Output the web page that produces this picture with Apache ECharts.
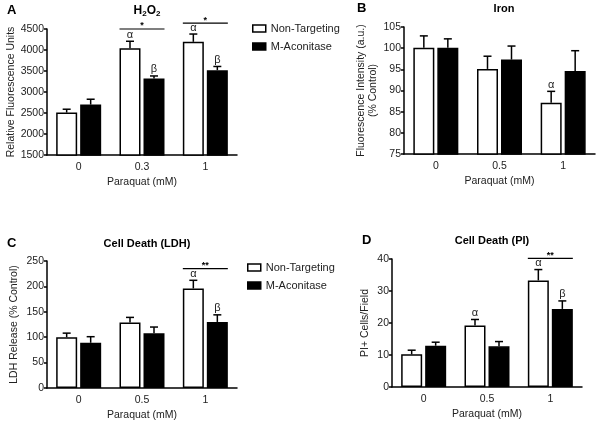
<!DOCTYPE html>
<html><head><meta charset="utf-8">
<script src="https://cdn.jsdelivr.net/npm/echarts@6/dist/echarts.min.js"></script>
<style>html,body{margin:0;padding:0;background:#fff}#c{width:600px;height:422px}</style>
</head><body><div id="c"></div>
<script>
// ---- Data ----
const catsA = ['0', '0.3', '1'];
const catsBCD = ['0', '0.5', '1'];

const h2o2NT = [2510, 4040, 4195];
const h2o2NTErr = [80, 168, 185];
const h2o2MA = [2700, 3320, 3520];
const h2o2MAErr = [128, 62, 88];

const ironNT = [100.1, 95.1, 87.1];
const ironNTErr = [2.8, 3.0, 2.7];
const ironMA = [100.1, 97.3, 94.6];
const ironMAErr = [2.1, 3.2, 4.8];

const ldhNT = [100, 129, 196];
const ldhNTErr = [8, 10, 16];
const ldhMA = [89, 108, 130];
const ldhMAErr = [12, 12, 14];

const piNT = [10.2, 19.2, 33.3];
const piNTErr = [1.3, 1.9, 3.4];
const piMA = [12.9, 12.7, 24.4];
const piMAErr = [1.1, 1.5, 2.5];

// annotations: [panel, categoryIndex, side(0 white / 1 black), symbol]
const markLetters = [
  [0, 1, 0, 'α'], [0, 1, 1, 'β'], [0, 2, 0, 'α'], [0, 2, 1, 'β'],
  [1, 2, 0, 'α'],
  [2, 2, 0, 'α'], [2, 2, 1, 'β'],
  [3, 1, 0, 'α'], [3, 2, 0, 'α'], [3, 2, 1, 'β']
];
// significance brackets: [panel, categoryIndex, yValue, stars]
const sigBrackets = [
  [0, 1, 4500, '*'], [0, 2, 4640, '*'],
  [2, 2, 235, '**'],
  [3, 2, 40.2, '**']
];

const panelTitles = ['H2O2', 'Iron', 'Cell Death (LDH)', 'Cell Death (PI)'];
const panelLetters = ['A', 'B', 'C', 'D'];
const yNames = ['Relative Fluorescence Units', 'Fluorescence Intensity (a.u.)\n(% Control)', 'LDH Release (% Control)', 'PI+ Cells/Field'];
const xName = 'Paraquat (mM)';
const yMin = [1500, 75, 0, 0];
const yMax = [4500, 105, 250, 40];
const yStep = [500, 5, 50, 10];

// ---- Layout ----
const FONT = 'Liberation Sans, Arial, sans-serif';
const FS = 10.5;
const BAR_W = 21, BAR_GAP = 3;
const grids = [
  {left: 47, top: 29, width: 190, height: 126},
  {left: 404, top: 27, width: 191, height: 127},
  {left: 47, top: 261, width: 190, height: 127},
  {left: 392, top: 259, width: 190, height: 128}
];
const yNameGap = [27, 25, 27, 21];

const panels = [
  {cats: catsA, nt: h2o2NT, ntE: h2o2NTErr, ma: h2o2MA, maE: h2o2MAErr},
  {cats: catsBCD, nt: ironNT, ntE: ironNTErr, ma: ironMA, maE: ironMAErr},
  {cats: catsBCD, nt: ldhNT, ntE: ldhNTErr, ma: ldhMA, maE: ldhMAErr},
  {cats: catsBCD, nt: piNT, ntE: piNTErr, ma: piMA, maE: piMAErr}
];

function sideOffset(side) { return (side === 0 ? -1 : 1) * (BAR_W + BAR_GAP) / 2; }

function errRender(side) {
  return function (params, api) {
    const cat = api.value(0), v = api.value(1), e = api.value(2);
    const b = api.coord([cat, v]);
    const t = api.coord([cat, v + e]);
    const x = b[0] + sideOffset(side);
    const st = {stroke: '#000', lineWidth: 1.5};
    return {type: 'group', children: [
      {type: 'line', shape: {x1: x, y1: b[1], x2: x, y2: t[1]}, style: st},
      {type: 'line', shape: {x1: x - 4, y1: t[1], x2: x + 4, y2: t[1]}, style: st}
    ]};
  };
}

function letterRender(params, api) {
  const cat = api.value(0), side = api.value(1), y = api.value(2);
  const p = api.coord([cat, y]);
  const sym = letterTexts[params.seriesId][params.dataIndex];
  return {type: 'text', x: p[0] + sideOffset(side), y: p[1] - 1,
    style: {text: sym, fill: '#222', font: '11px ' + FONT, align: 'center', verticalAlign: 'bottom'}};
}

function sigRender(params, api) {
  const cat = api.value(0), y = api.value(1);
  const p = api.coord([cat, y]);
  const half = BAR_W + BAR_GAP / 2;
  const s = sigTexts[params.seriesId][params.dataIndex];
  return {type: 'group', children: [
    {type: 'line', shape: {x1: p[0] - half, y1: p[1], x2: p[0] + half, y2: p[1]}, style: {stroke: '#000', lineWidth: 1.2}},
    {type: 'text', x: p[0], y: p[1] - 3, style: {text: s, fill: '#000', font: 'bold 9px ' + FONT, align: 'center', verticalAlign: 'middle'}}
  ]};
}

const letterTexts = {};
const sigTexts = {};
const series = [];
const xAxes = [], yAxes = [];

panels.forEach((pn, i) => {
  xAxes.push({type: 'category', gridIndex: i, data: pn.cats,
    axisLine: {lineStyle: {color: '#000', width: 1.5}}, axisTick: {show: false},
    axisLabel: {color: '#222', fontSize: FS, fontFamily: FONT, margin: 7},
    name: xName, nameLocation: 'middle', nameGap: 22,
    nameTextStyle: {color: '#222', fontSize: FS, fontFamily: FONT}});
  yAxes.push({type: 'value', gridIndex: i, min: yMin[i], max: yMax[i], interval: yStep[i],
    axisLine: {show: true, lineStyle: {color: '#000', width: 1.5}},
    axisTick: {show: true, length: 3, lineStyle: {color: '#000', width: 1.5}},
    splitLine: {show: false},
    axisLabel: {color: '#222', fontSize: FS, fontFamily: FONT, margin: 3, formatter: v => String(v)},
    name: yNames[i], nameLocation: 'middle', nameGap: yNameGap[i],
    nameTextStyle: {color: '#222', fontSize: FS, fontFamily: FONT, lineHeight: 12}});

  series.push({type: 'bar', name: 'Non-Targeting', xAxisIndex: i, yAxisIndex: i,
    data: pn.nt, barWidth: BAR_W, barGap: (BAR_GAP / BAR_W * 100) + '%',
    itemStyle: {color: '#fff', borderColor: '#000', borderWidth: 1.5}, silent: true});
  series.push({type: 'bar', name: 'M-Aconitase', xAxisIndex: i, yAxisIndex: i,
    data: pn.ma, barWidth: BAR_W,
    itemStyle: {color: '#000', borderColor: '#000', borderWidth: 1.5}, silent: true});
  series.push({type: 'custom', xAxisIndex: i, yAxisIndex: i, renderItem: errRender(0), clip: false, z: 5,
    data: pn.nt.map((v, k) => [k, v, pn.ntE[k]]), silent: true});
  series.push({type: 'custom', xAxisIndex: i, yAxisIndex: i, renderItem: errRender(1), clip: false, z: 5,
    data: pn.ma.map((v, k) => [k, v, pn.maE[k]]), silent: true});

  const lets = markLetters.filter(m => m[0] === i);
  if (lets.length) {
    const id = 'let' + i;
    letterTexts[id] = lets.map(m => m[3]);
    series.push({type: 'custom', id: id, xAxisIndex: i, yAxisIndex: i, renderItem: letterRender, clip: false, z: 6, silent: true,
      data: lets.map(m => {
        const v = m[2] === 0 ? pn.nt[m[1]] + pn.ntE[m[1]] : pn.ma[m[1]] + pn.maE[m[1]];
        return [m[1], m[2], v];
      })});
  }
  const sigs = sigBrackets.filter(s => s[0] === i);
  if (sigs.length) {
    const id = 'sig' + i;
    sigTexts[id] = sigs.map(s => s[3]);
    series.push({type: 'custom', id: id, xAxisIndex: i, yAxisIndex: i, renderItem: sigRender, clip: false, z: 6, silent: true,
      data: sigs.map(s => [s[1], s[2]])});
  }
});

const titleCenters = [142, 499, 142, 487];
const titleTops = [-1, -3, 232, 229];
const letterLefts = [2, 352, 2, 357];
const titles = [];
panels.forEach((pn, i) => {
  titles.push({text: panelLetters[i], left: letterLefts[i], top: titleTops[i],
    textStyle: {fontFamily: FONT, fontWeight: 'bold', fontSize: 13, color: '#000'}});
  if (i === 0) {
    titles.push({text: '{n|H}{s|2}{n|O}{s|2}', left: titleCenters[i], top: titleTops[i], textAlign: 'center',
      textStyle: {rich: {
        n: {fontFamily: FONT, fontWeight: 'bold', fontSize: 12, color: '#000'},
        s: {fontFamily: FONT, fontWeight: 'bold', fontSize: 8, color: '#000', verticalAlign: 'bottom', padding: [6, 0, 0, 0]}}}});
  } else {
    titles.push({text: panelTitles[i], left: titleCenters[i], top: titleTops[i] + 1, textAlign: 'center',
      textStyle: {fontFamily: FONT, fontWeight: 'bold', fontSize: 11, color: '#000'}});
  }
});

const legendData = [
  {name: 'Non-Targeting', itemStyle: {color: '#fff', borderColor: '#000', borderWidth: 1.5}},
  {name: 'M-Aconitase', itemStyle: {color: '#000', borderColor: '#000', borderWidth: 1.5}}
];
const legendCommon = {orient: 'vertical', icon: 'rect', itemWidth: 13, itemHeight: 7, itemGap: 7,
  selectedMode: false, textStyle: {fontFamily: FONT, fontSize: 11, color: '#222', padding: [0, 0, 0, 0]}, data: legendData};

const chart = echarts.init(document.getElementById('c'), null, {renderer: 'canvas'});
chart.setOption({
  animation: false,
  backgroundColor: '#fff',
  title: titles,
  legend: [
    Object.assign({left: 247, top: 18}, legendCommon),
    Object.assign({left: 242, top: 257}, legendCommon)
  ],
  grid: grids,
  xAxis: xAxes,
  yAxis: yAxes,
  series: series
});
</script></body></html>
